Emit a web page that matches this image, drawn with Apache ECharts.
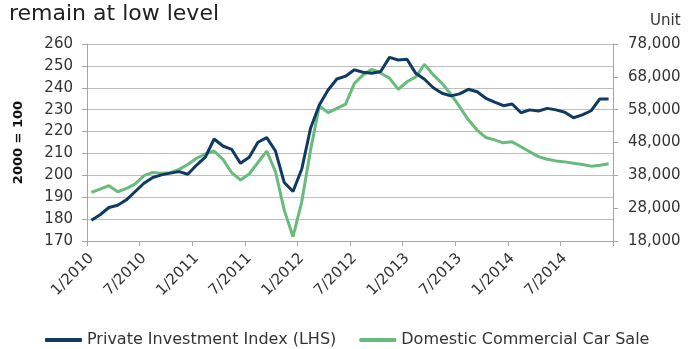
<!DOCTYPE html>
<html>
<head>
<meta charset="utf-8">
<script src="https://cdn.jsdelivr.net/npm/echarts@6/dist/echarts.min.js"></script>
<style>
  html, body { margin: 0; padding: 0; background: #ffffff; }
  #chart { width: 688px; height: 349px; }
</style>
</head>
<body>
<div id="chart"></div>
<script>
// Monthly categories, Jan 2010 – Dec 2014
const months = [];
for (let y = 2010; y <= 2014; y++) {
  for (let m = 1; m <= 12; m++) months.push(m + '/' + y);
}

// Private Investment Index (2000 = 100), left axis
const investmentIndex = [
  179.5, 182.0, 185.3, 186.3, 188.8, 192.6, 196.4, 199.0, 200.2, 201.0,
  201.7, 200.5, 204.7, 208.3, 216.6, 213.4, 211.9, 205.5, 208.3, 215.1,
  217.2, 211.1, 196.7, 192.6, 202.9, 221.5, 232.1, 239.0, 244.0, 245.3,
  248.2, 247.1, 246.6, 247.4, 253.9, 252.7, 253.0, 246.6, 243.9, 240.0,
  237.5, 236.3, 237.2, 239.3, 238.2, 235.2, 233.4, 231.8, 232.6, 228.6,
  229.9, 229.4, 230.6, 229.9, 228.8, 226.3, 227.6, 229.5, 234.9, 234.9
];

// Domestic commercial car sales (units), right axis
const carSales = [
  32800, 33800, 34850, 33000, 34000, 35400, 37900, 38900, 38600, 38800,
  39800, 41300, 43200, 44500, 45400, 42900, 38800, 36600, 38400, 41900,
  45400, 39100, 27400, 19300, 30000, 45700, 59100, 57100, 58400, 59700,
  66000, 68600, 70300, 69100, 67600, 64200, 66500, 68000, 71800, 68600,
  66000, 62700, 58900, 54900, 51800, 49500, 48800, 47900, 48200, 46700,
  45200, 43700, 42900, 42400, 42100, 41700, 41300, 40800, 41100, 41500
];

const titleText = 'remain at low level';
const leftAxisName = '2000 = 100';
const rightAxisName = 'Unit';
const seriesNames = ['Private Investment Index (LHS)', 'Domestic Commercial Car Sale'];

const FONT = 'DejaVu Sans';
const TEXT = '#333333';
const NAVY = '#0f3a63';
const GREEN = '#67bb7b';

const chart = echarts.init(document.getElementById('chart'), null, { renderer: 'canvas' });

chart.setOption({
  animation: false,
  backgroundColor: '#ffffff',
  textStyle: { fontFamily: FONT, color: TEXT },
  graphic: [
    {
      type: 'text', left: 9, top: 3,
      style: { text: titleText, font: '22px "DejaVu Sans"', fill: '#222222' }
    },
    {
      type: 'text', left: 650, top: 14,
      style: { text: rightAxisName, font: '15px "DejaVu Sans"', fill: TEXT }
    }
  ],
  legend: {
    data: seriesNames,
    left: 45, top: 332, padding: 0,
    itemWidth: 37, itemHeight: 4, itemGap: 23,
    icon: 'roundRect',
    textStyle: { fontFamily: FONT, fontSize: 16, color: TEXT }
  },
  grid: { left: 87, right: 75, top: 44, bottom: 108 },
  xAxis: {
    type: 'category',
    data: months,
    boundaryGap: true,
    axisLine: { lineStyle: { color: '#a6a6a6', width: 1 } },
    axisTick: { show: true, interval: 5, length: 5, lineStyle: { color: '#a6a6a6' } },
    axisLabel: {
      interval: 5, rotate: 45, margin: 15,
      fontFamily: FONT, fontSize: 15, color: TEXT
    },
    splitLine: { show: false }
  },
  yAxis: [
    {
      type: 'value',
      min: 170, max: 260, interval: 10,
      position: 'left',
      name: leftAxisName,
      nameLocation: 'middle',
      nameRotate: 90,
      nameGap: 62,
      nameTextStyle: { fontFamily: FONT, fontSize: 13, fontWeight: 'bold', color: '#111111' },
      axisLine: { show: true, lineStyle: { color: '#a6a6a6', width: 1 } },
      axisTick: { show: true, length: 5, lineStyle: { color: '#a6a6a6' } },
      axisLabel: { margin: 14, fontFamily: FONT, fontSize: 15, color: TEXT },
      splitLine: { show: true, lineStyle: { color: '#bfbfbf', width: 1 } }
    },
    {
      type: 'value',
      min: 18000, max: 78000, interval: 10000,
      position: 'right',
      axisLine: { show: true, lineStyle: { color: '#a6a6a6', width: 1 } },
      axisTick: { show: true, length: 5, lineStyle: { color: '#a6a6a6' } },
      axisLabel: {
        margin: 15, fontFamily: FONT, fontSize: 15, color: TEXT,
        formatter: v => v.toLocaleString('en-US')
      },
      splitLine: { show: false }
    }
  ],
  series: [
    {
      name: seriesNames[0],
      type: 'line',
      yAxisIndex: 0,
      data: investmentIndex,
      showSymbol: false,
      symbol: 'none',
      lineStyle: { color: NAVY, width: 3 },
      itemStyle: { color: NAVY },
      z: 3
    },
    {
      name: seriesNames[1],
      type: 'line',
      yAxisIndex: 1,
      data: carSales,
      showSymbol: false,
      symbol: 'none',
      lineStyle: { color: GREEN, width: 3 },
      itemStyle: { color: GREEN },
      z: 2
    }
  ]
});
</script>
</body>
</html>
